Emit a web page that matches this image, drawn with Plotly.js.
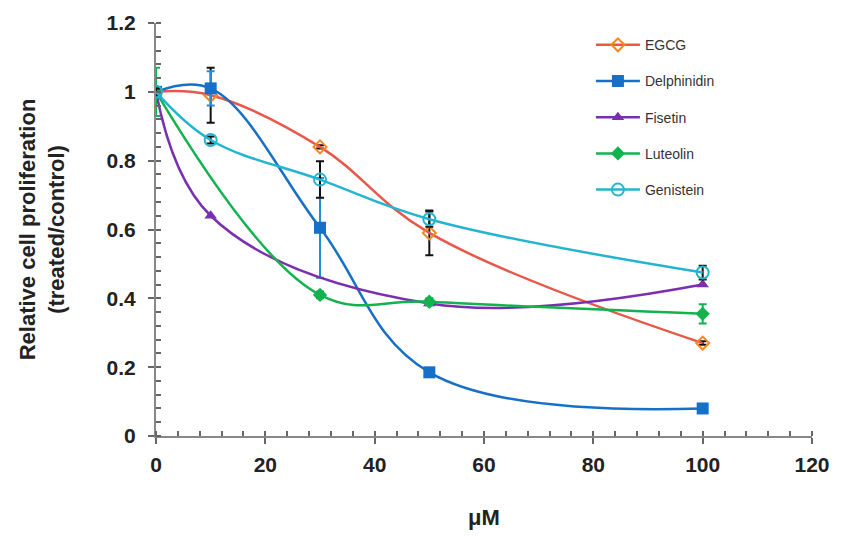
<!DOCTYPE html>
<html>
<head>
<meta charset="utf-8">
<script src="https://cdn.plot.ly/plotly-3.0.1.min.js"></script>
<style>
  html, body { margin: 0; padding: 0; background: #fff; }
  #chart { width: 843px; height: 542px; }
</style>
</head>
<body>
<div id="chart"></div>
<script>
// concentrations (uM) and relative proliferation per compound
const egcgX = [0, 10, 30, 50, 100];
const egcgY = [1.0, 0.99, 0.84, 0.59, 0.27];
const egcgErr = [0, 0.08, 0.005, 0.065, 0.005];

const delphX = [0, 10, 30, 50, 100];
const delphY = [1.0, 1.01, 0.605, 0.185, 0.08];
const delphErr = [0.01, 0.05, 0.145, 0.005, 0.005];

const fisetinX = [0, 10, 50, 100];
const fisetinY = [1.0, 0.64, 0.385, 0.44];

const luteolinX = [0, 30, 50, 100];
const luteolinY = [1.0, 0.41, 0.39, 0.355];
const luteolinErr = [0.07, 0.01, 0.01, 0.028];

const genisteinX = [0, 10, 30, 50, 100];
const genisteinY = [1.0, 0.86, 0.745, 0.63, 0.475];
const genisteinErr = [0.01, 0.01, 0.053, 0.022, 0.02];

const xTicks = [0, 20, 40, 60, 80, 100, 120];
const yTicks = [0, 0.2, 0.4, 0.6, 0.8, 1, 1.2];
const yTickText = ['0', '0.2', '0.4', '0.6', '0.8', '1', '1.2'];

function series(name, x, y, lineColor, marker, err, errColor) {
  const t = {
    x: x, y: y, name: name,
    type: 'scatter', mode: 'lines+markers',
    line: { color: lineColor, width: 2.5, shape: 'spline', smoothing: 1.1 },
    marker: marker,
    legendgroup: name
  };
  if (err) {
    t.error_y = { type: 'data', array: err, visible: true, color: errColor, thickness: 2, width: 4 };
  }
  return t;
}

const data = [
  series('EGCG', egcgX, egcgY, '#E8584A',
    { symbol: 'diamond-open', size: 10, color: '#F7861E', line: { width: 2 } }, egcgErr, '#111'),
  series('Delphinidin', delphX, delphY, '#1670C8',
    { symbol: 'square', size: 12, color: '#1670C8' }, delphErr, '#1E8FD8'),
  series('Fisetin', fisetinX, fisetinY, '#7A2FB0',
    { symbol: 'triangle-up', size: 11, color: '#7A2FB0' }),
  series('Luteolin', luteolinX, luteolinY, '#13B24F',
    { symbol: 'diamond', size: 11, color: '#13B24F' }, luteolinErr, '#13B24F'),
  series('Genistein', genisteinX, genisteinY, '#25B4D0',
    { symbol: 'circle-open', size: 12, color: '#25B4D0', line: { width: 2 } }, genisteinErr, '#111')
];

const fontFam = 'Liberation Sans, Arial, sans-serif';
const axisFont = { family: fontFam, size: 21, color: '#222' };

const layout = {
  width: 843, height: 542,
  margin: { l: 156, r: 31, t: 23, b: 106 },
  paper_bgcolor: '#fff', plot_bgcolor: '#fff',
  showlegend: true,
  legend: {
    x: 0.663, y: 0.985, xanchor: 'left', yanchor: 'top',
    font: { family: fontFam, size: 14, color: '#333' },
    tracegroupgap: 15, itemwidth: 44
  },
  xaxis: {
    range: [0, 120], tickvals: xTicks, ticktext: xTicks.map(v => '<b>' + v + '</b>'),
    showgrid: false, zeroline: false,
    showline: true, linecolor: '#888', linewidth: 2,
    ticks: 'outside', ticklen: 6, tickcolor: '#666', tickwidth: 1.5,
    minor: { dtick: 4, ticks: 'inside', ticklen: 5, tickcolor: '#666', tickwidth: 1.5 },
    tickfont: axisFont, ticklabelstandoff: 3,
    title: { text: '<b>μM</b>', font: { family: fontFam, size: 22, color: '#222' }, standoff: 34 }
  },
  yaxis: {
    range: [0, 1.2], tickvals: yTicks, ticktext: yTickText.map(v => '<b>' + v + '</b>'),
    showgrid: false, zeroline: false,
    showline: true, linecolor: '#888', linewidth: 2,
    ticks: 'outside', ticklen: 6, tickcolor: '#666', tickwidth: 1.5,
    minor: { dtick: 0.04, ticks: 'inside', ticklen: 5, tickcolor: '#666', tickwidth: 1.5 },
    tickfont: axisFont, ticklabelstandoff: 8,
    title: { text: '<b>Relative cell proliferation<br>(treated/control)</b>', font: { family: fontFam, size: 22, color: '#222' }, standoff: 36 }
  }
};

Plotly.newPlot('chart', data, layout, { displayModeBar: false });
</script>
</body>
</html>
